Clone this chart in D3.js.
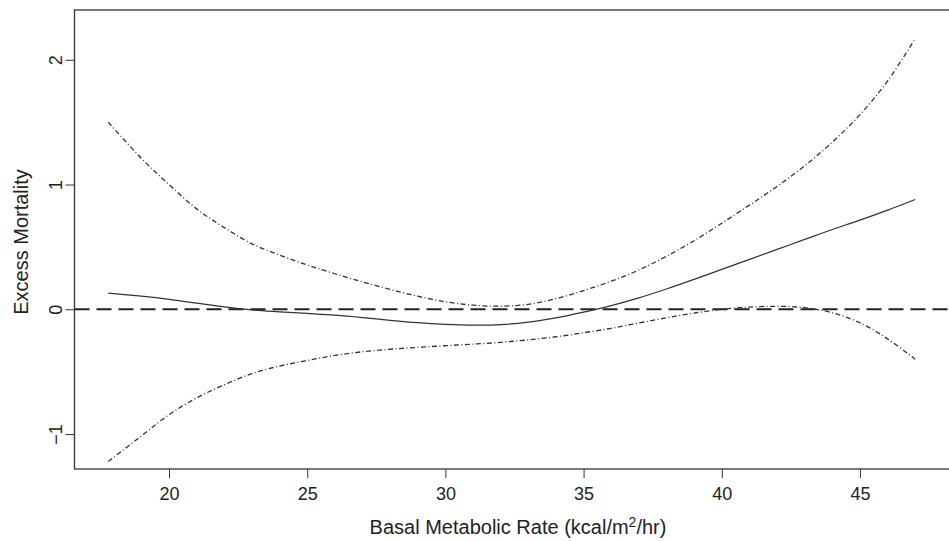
<!DOCTYPE html>
<meta charset="utf-8">
<style>
body { margin: 0; background: #fff; }
svg { display: block; font-family: "Liberation Sans", Arial, sans-serif; }
.axis text { font-size: 18px; fill: #222; }
.axis line { stroke: #333; stroke-width: 1; }
.axis path { display: none; }
.title { font-size: 20px; fill: #222; }
</style>
<body>
<script src="https://cdnjs.cloudflare.com/ajax/libs/d3/7.8.5/d3.min.js"></script>
<script>

// basal metabolic rate grid
var bmr = [17.8, 19, 20, 21, 22, 23, 24, 25, 26, 27, 28, 29, 30, 31, 32,
           33, 34, 35, 36, 37, 38, 39, 40, 41, 42, 43, 44, 45, 46, 47];

// fitted excess mortality
var fit = [0.13, 0.105, 0.08, 0.05, 0.02, -0.005, -0.02, -0.033, -0.047, -0.066, -0.088, -0.107, -0.12, -0.127, -0.123,
           -0.103, -0.068, -0.022, 0.03, 0.092, 0.163, 0.24, 0.32, 0.40, 0.48, 0.56, 0.64, 0.715, 0.795, 0.88];

// upper and lower confidence bands
var upper = [1.50, 1.21, 1.0, 0.805, 0.655, 0.525, 0.435, 0.355, 0.285, 0.22, 0.16, 0.105, 0.06, 0.033, 0.025,
             0.04, 0.085, 0.15, 0.225, 0.315, 0.425, 0.55, 0.69, 0.835, 0.985, 1.15, 1.34, 1.56, 1.83, 2.17];
var lower = [-1.22, -1.015, -0.845, -0.71, -0.605, -0.515, -0.455, -0.41, -0.37, -0.34, -0.32, -0.305, -0.292, -0.279, -0.265,
             -0.245, -0.22, -0.188, -0.152, -0.11, -0.068, -0.03, 0.0, 0.018, 0.024, 0.013, -0.028, -0.108, -0.237, -0.4];

var xTicks = [20, 25, 30, 35, 40, 45];
var yTicks = [-1, 0, 1, 2];

var width = 949, height = 541;
var plot = {left: 74.5, top: 10, right: 960, bottom: 469};

var svg = d3.select("body").append("svg")
    .attr("width", width)
    .attr("height", height);

var x = d3.scaleLinear()
    .domain([16.58, 48.62])
    .range([plot.left, plot.right]);

var y = d3.scaleLinear()
    .domain([-1.28, 2.399])
    .range([plot.bottom, plot.top]);

var line = d3.line()
    .x(function(d) { return x(d[0]); })
    .y(function(d) { return y(d[1]); })
    .curve(d3.curveCatmullRom);

// bottom axis
svg.append("g")
    .attr("class", "axis")
    .attr("transform", "translate(0," + plot.bottom + ")")
    .call(d3.axisBottom(x).tickValues(xTicks).tickSize(9).tickPadding(9).tickFormat(d3.format("d")));

// left axis, labels turned like R
svg.append("g")
    .attr("class", "axis")
    .attr("transform", "translate(" + plot.left + ",0)")
    .call(d3.axisLeft(y).tickValues(yTicks).tickSize(9).tickFormat(d3.format("d")))
  .selectAll("text")
    .attr("transform", "rotate(-90)")
    .attr("x", 0)
    .attr("y", -12.5)
    .attr("dy", 0)
    .attr("text-anchor", "middle");

// box
svg.append("rect")
    .attr("x", plot.left)
    .attr("y", plot.top)
    .attr("width", plot.right - plot.left)
    .attr("height", plot.bottom - plot.top)
    .attr("fill", "none")
    .attr("stroke", "#333")
    .attr("stroke-width", 1.3);

// reference line at zero
svg.append("line")
    .attr("x1", plot.left)
    .attr("x2", plot.right)
    .attr("y1", y(0))
    .attr("y2", y(0))
    .attr("stroke", "#222")
    .attr("stroke-width", 2)
    .attr("stroke-dasharray", "15,7");

svg.append("path")
    .datum(d3.zip(bmr, fit))
    .attr("d", line)
    .attr("fill", "none")
    .attr("stroke", "#333")
    .attr("stroke-width", 1.2);

[upper, lower].forEach(function(band) {
  svg.append("path")
      .datum(d3.zip(bmr, band))
      .attr("d", line)
      .attr("fill", "none")
      .attr("stroke", "#333")
      .attr("stroke-width", 1.3)
      .attr("stroke-dasharray", "5,2.5,1,2.5");
});

svg.append("text")
    .attr("class", "title")
    .attr("x", 518)
    .attr("y", 534)
    .attr("text-anchor", "middle")
    .html("Basal Metabolic Rate (kcal/m<tspan dy='-7' font-size='14px'>2</tspan><tspan dy='7'>/hr)</tspan>");

svg.append("text")
    .attr("class", "title")
    .attr("transform", "translate(28," + 242 + ") rotate(-90)")
    .attr("text-anchor", "middle")
    .text("Excess Mortality");

</script>
</body>
